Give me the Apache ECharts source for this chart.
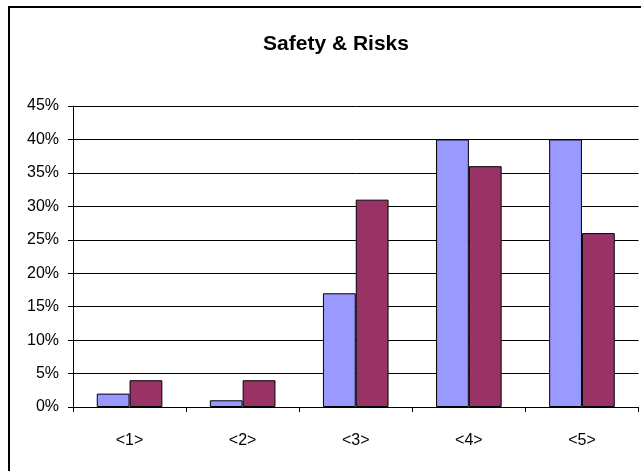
<!DOCTYPE html>
<html>
<head>
<meta charset="utf-8">
<script src="https://cdn.jsdelivr.net/npm/echarts@6/dist/echarts.min.js"></script>
<style>
html, body { margin: 0; padding: 0; background: #fff; }
#main { width: 641px; height: 471px; }
</style>
</head>
<body>
<div id="main"></div>
<script>
const categories = ['<1>', '<2>', '<3>', '<4>', '<5>'];
const seriesA = [2, 1, 17, 40, 40];
const seriesB = [4, 4, 31, 36, 26];

const chart = echarts.init(document.getElementById('main'));

const option = {
    animation: false,
    backgroundColor: '#fff',
    title: {
        text: 'Safety & Risks',
        left: 331,
        top: 29,
        textAlign: 'center',
        textStyle: {
            fontFamily: 'Liberation Sans, Arial',
            fontSize: 21,
            fontWeight: 'bold',
            color: '#000'
        }
    },
    graphic: [{
        type: 'polyline',
        shape: { points: [[9, 471], [9, 7], [641, 7]] },
        style: { stroke: '#000', lineWidth: 2, fill: null }
    }],
    grid: {
        left: 73,
        right: 2.5,
        top: 106,
        bottom: 64
    },
    xAxis: {
        type: 'category',
        data: categories,
        axisLine: { lineStyle: { color: '#000', width: 1 } },
        axisTick: { show: true, alignWithLabel: false, length: 5, lineStyle: { color: '#000' } },
        axisLabel: {
            color: '#000',
            fontFamily: 'Liberation Sans, Arial',
            fontSize: 16,
            margin: 26
        }
    },
    yAxis: {
        type: 'value',
        min: 0,
        max: 45,
        interval: 5,
        axisLine: { show: true, lineStyle: { color: '#000', width: 1 } },
        axisTick: { show: true, length: 5, lineStyle: { color: '#000' } },
        splitLine: { lineStyle: { color: '#000', width: 1 } },
        axisLabel: {
            formatter: '{value}%',
            color: '#000',
            fontFamily: 'Liberation Sans, Arial',
            fontSize: 16,
            margin: 14
        }
    },
    series: [
        {
            type: 'bar',
            data: seriesA,
            barGap: '0%',
            barCategoryGap: '42%',
            itemStyle: { color: '#9999FF', borderColor: '#000', borderWidth: 1 }
        },
        {
            type: 'bar',
            data: seriesB,
            itemStyle: { color: '#993366', borderColor: '#000', borderWidth: 1 }
        }
    ]
};

chart.setOption(option);
</script>
</body>
</html>
